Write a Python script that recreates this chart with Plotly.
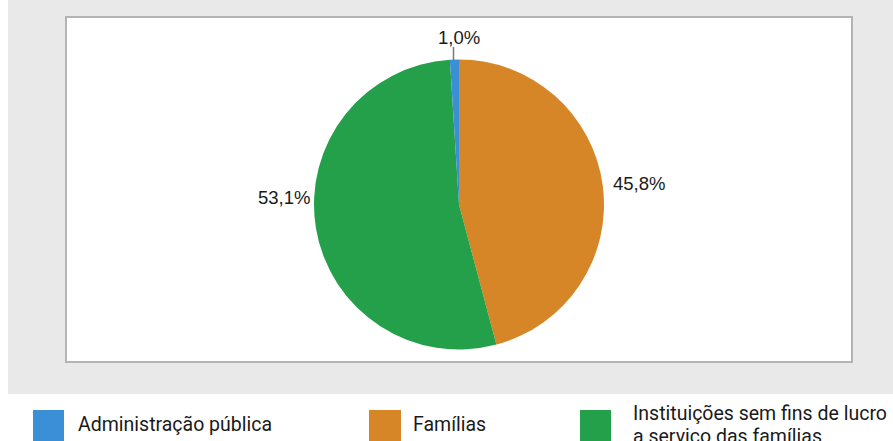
import plotly.graph_objects as go

W, H = 893, 441

labels = ["Famílias", "Instituições sem fins de lucro a serviço das famílias", "Administração pública"]
values = [45.8, 53.1, 1.0]
text_labels = ["45,8%", "53,1%", "1,0%"]
colors = ["#d68626", "#24a04a", "#3a8fd6"]

legend_lines = [["Administração pública"], ["Famílias"],
                ["Instituições sem fins de lucro", "a serviço das famílias"]]
legend_colors = [colors[2], colors[0], colors[1]]


def px(x):
    return x / W


def py(y):
    return (H - y) / H


cx, cy, r = 459, 204.5, 145

fig = go.Figure()
fig.add_trace(go.Pie(
    labels=labels,
    values=values,
    textinfo="none",
    sort=False,
    direction="clockwise",
    rotation=0,
    marker=dict(colors=colors, line=dict(width=0)),
    domain=dict(x=[px(cx - r), px(cx + r)], y=[py(cy + r), py(cy - r)]),
    showlegend=False,
    hoverinfo="label+percent",
))

shapes = [
    dict(type="rect", xref="paper", yref="paper", x0=px(8), x1=1, y0=py(394), y1=1,
         fillcolor="#e9e9e9", line=dict(width=0), layer="below"),
    dict(type="rect", xref="paper", yref="paper", x0=px(66), x1=px(852), y0=py(362), y1=py(17),
         fillcolor="#ffffff", line=dict(color="#b4b4b4", width=2), layer="below"),
    # leader line for the small slice
    dict(type="line", xref="paper", yref="paper", x0=px(453.5), x1=px(453.5), y0=py(47), y1=py(60),
         line=dict(color="#777777", width=1.5)),
]

label_pos = [(639, 183), (284, 197), (458.5, 38)]
annotations = []
for t, (lx, ly) in zip(text_labels, label_pos):
    annotations.append(dict(xref="paper", yref="paper", x=px(lx), y=py(ly),
                            xanchor="center", yanchor="middle", text=t, showarrow=False,
                            font=dict(family="Liberation Sans, Arial", size=18.5, color="#1a1a1a")))

sq_x = [(33, 64), (369, 401), (580, 611)]
txt_x = [76, 411, 631]
line_y = [[424], [424], [413.5, 436]]
for i in range(3):
    shapes.append(dict(type="rect", xref="paper", yref="paper",
                       x0=px(sq_x[i][0]), x1=px(sq_x[i][1]), y0=py(441), y1=py(410),
                       fillcolor=legend_colors[i], line=dict(width=0)))
    for t, ly in zip(legend_lines[i], line_y[i]):
        annotations.append(dict(xref="paper", yref="paper", x=px(txt_x[i]), y=py(ly),
                                xanchor="left", yanchor="middle", text=t, showarrow=False,
                                font=dict(family="Roboto", size=19.5, color="#1a1a1a")))

fig.update_layout(
    width=W, height=H,
    margin=dict(l=0, r=0, t=0, b=0),
    paper_bgcolor="#ffffff",
    plot_bgcolor="#ffffff",
    shapes=shapes,
    annotations=annotations,
)

fig.write_html("out.html", config={"displayModeBar": False},
               post_script="document.body.style.margin='0px';document.body.style.overflow='hidden';")
